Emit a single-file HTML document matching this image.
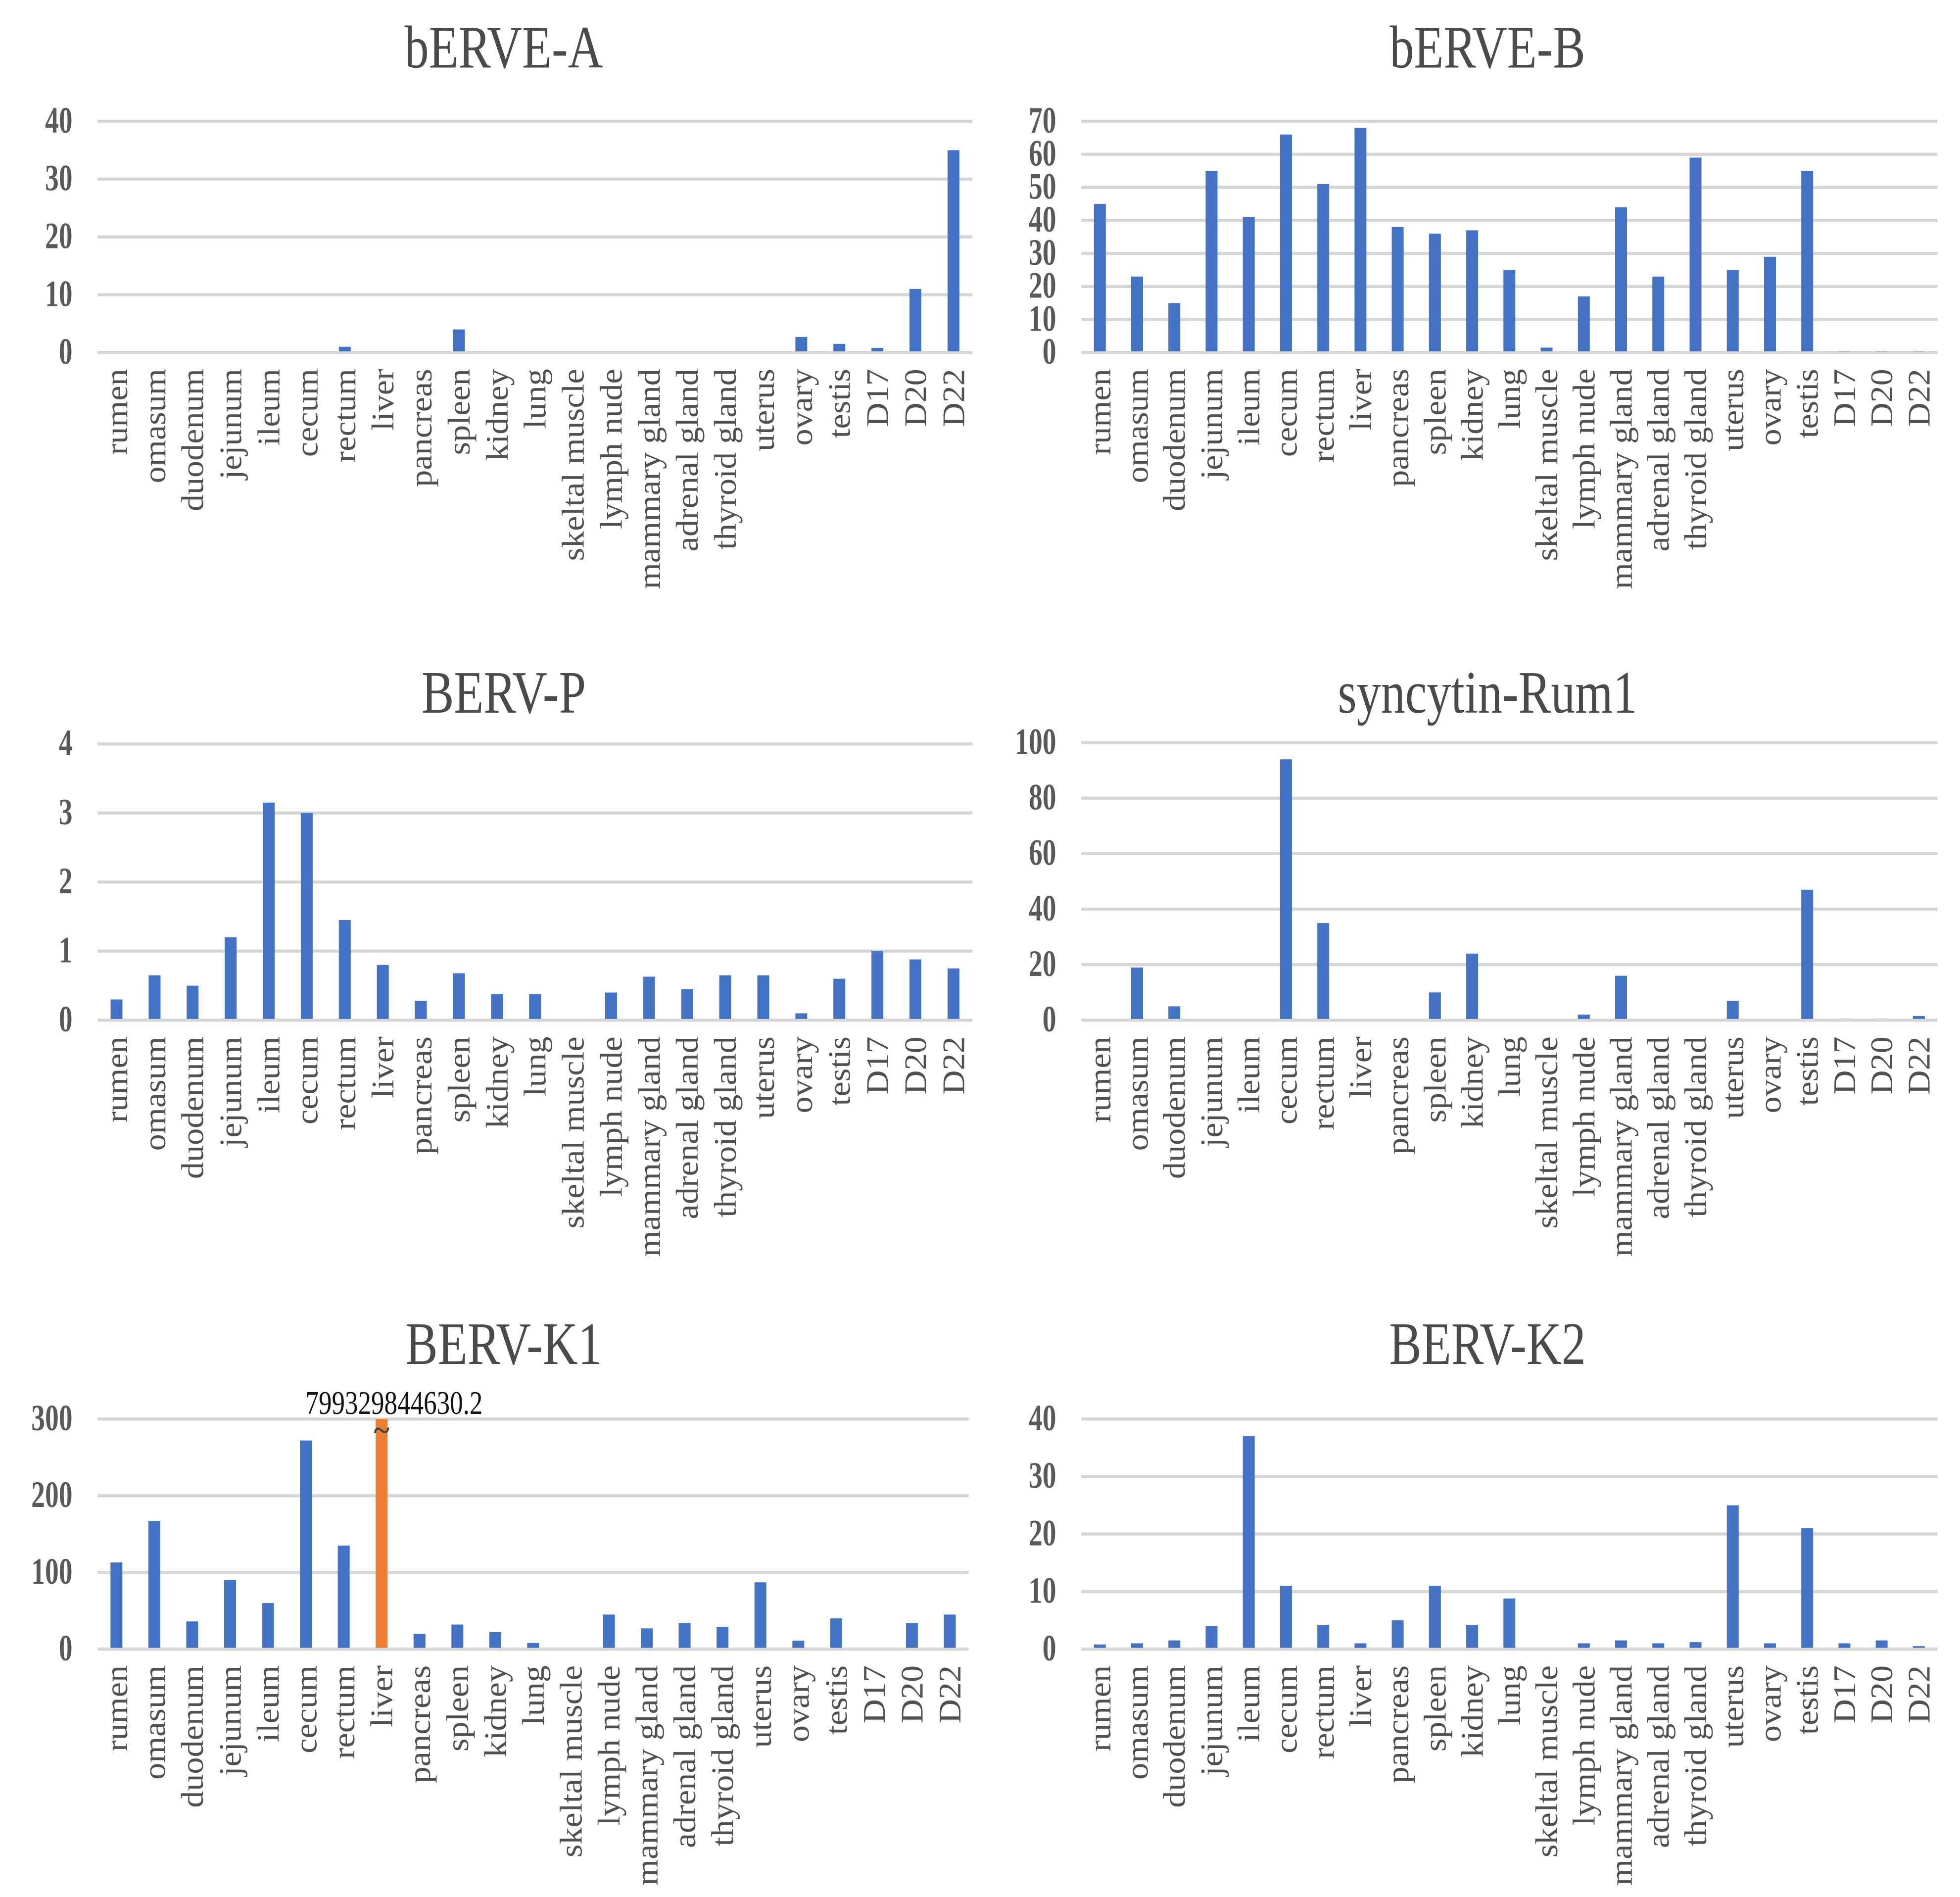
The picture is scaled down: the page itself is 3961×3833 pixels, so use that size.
<!DOCTYPE html>
<html><head><meta charset="utf-8"><style>
html,body{margin:0;padding:0;background:#fff;width:3961px;height:3833px;overflow:hidden}
svg{display:block}
text{font-family:"Liberation Serif",serif}
</style></head><body>
<svg id="fig" width="3961" height="3833" viewBox="0 0 1568 1517.3" preserveAspectRatio="none" xmlns="http://www.w3.org/2000/svg"></svg>
<script>
const categories = ["rumen","omasum","duodenum","jejunum","ileum","cecum","rectum","liver","pancreas","spleen","kidney","lung","skeltal muscle","lymph nude","mammary gland","adrenal gland","thyroid gland","uterus","ovary","testis","D17","D20","D22"];
const valsA = [0,0,0,0,0,0,1,0,0,4,0,0,0,0,0,0,0,0,2.7,1.5,0.8,11,35];
const valsB = [45,23,15,55,41,66,51,68,38,36,37,25,1.5,17,44,23,59,25,29,55,0.5,0.5,0.5];
const valsP = [0.3,0.65,0.5,1.2,3.15,3.0,1.45,0.8,0.28,0.68,0.38,0.38,0,0.4,0.63,0.45,0.65,0.65,0.1,0.6,1.0,0.88,0.75];
const valsS = [0,19,5,0,0,94,35,0,0,10,24,0,0,2,16,0,0,7,0,47,0.5,0.5,1.5];
const valsK1 = [113,167,36,90,60,272,135,300,20,32,22,8,0,45,27,34,29,87,11,40,0,34,45];
const valsK2 = [0.8,1,1.5,4,37,11,4.2,1,5,11,4.2,8.8,0,1,1.5,1,1.2,25,1,21,1,1.5,0.5];
const ticksA = [0,10,20,30,40];
const ticksB = [0,10,20,30,40,50,60,70];
const ticksP = [0,1,2,3,4];
const ticksS = [0,20,40,60,80,100];
const ticksK1 = [0,100,200,300];
const ticksK2 = [0,10,20,30,40];

const svg = document.getElementById('fig');
const NS = 'http://www.w3.org/2000/svg';
function mk(tag, attrs, parent){const e=document.createElementNS(NS,tag);for(const k in attrs)e.setAttribute(k,attrs[k]);parent.appendChild(e);return e;}

function chart(id, title, vals, ticks, x0, x1, yTop, y0, titleY, highlight){
  const g = mk('g',{},svg);
  
  
  const max = ticks[ticks.length-1];
  const yS = v => y0 - (v/max)*(y0-yTop);
  const band = (x1-x0)/categories.length;
  const xS = i => x0 + band*(i+0.5);
  const t = mk('text',{transform:`translate(${x0+325},${titleY}) scale(1.05,1.3)`,'text-anchor':'middle','font-size':37,fill:'#4a4a4a'},g);
  t.textContent = title;
  
  
  ticks.forEach(tv=>{
    const y = yS(tv);
    const l = mk('line',{x1:x0,x2:x1,y1:y,y2:y,stroke:'#d6d6d6','stroke-width':2.5},g);
    
    
    const tl = mk('text',{transform:`translate(${x0-20},${y+9}) scale(1,1.35)`,'text-anchor':'end','font-size':22,'font-weight':'bold',fill:'#595959'},g);
    tl.textContent = tv;
    
    
  });
  vals.forEach((v,i)=>{
    const cx = xS(i), y = yS(v), w = 9.5;
    const r = mk('rect',{x:cx-w/2,y:y,width:w,height:Math.max(0,y0-y-1),fill:(highlight===i?'#ED7D31':'#4472C4')},g);
    
    
    const lb = mk('text',{transform:`translate(${cx+8.5},${y0+13}) rotate(-90) scale(1.08,1)`,'text-anchor':'end','font-size':25,fill:'#505050'},g);
    lb.textContent = categories[i];
    
    
  });
  return {xS,yS};
}

chart('berve-a','bERVE-A',valsA,ticksA,78,778,97,282,54);
chart('berve-b','bERVE-B',valsB,ticksB,865,1550,97,282,54);
chart('berv-p','BERV-P',valsP,ticksP,78,778,595,816,570);
chart('syncytin','syncytin-Rum1',valsS,ticksS,865,1550,594,816,570);
const k1 = chart('berv-k1','BERV-K1',valsK1,ticksK1,78,775,1135,1319,1091,7);
chart('berv-k2','BERV-K2',valsK2,ticksK2,865,1550,1135,1319,1091);

const ann = mk('text',{transform:`translate(${k1.xS(7)+10},1131) scale(1,1.25)`,'text-anchor':'middle','font-size':21,fill:'#111'},svg);
ann.textContent = '799329844630.2';


const sq = mk('text',{x:k1.xS(7),y:1152,'text-anchor':'middle','font-size':24,'font-weight':'bold',fill:'#444'},svg);
sq.textContent = '~';


</script>
</body></html>
